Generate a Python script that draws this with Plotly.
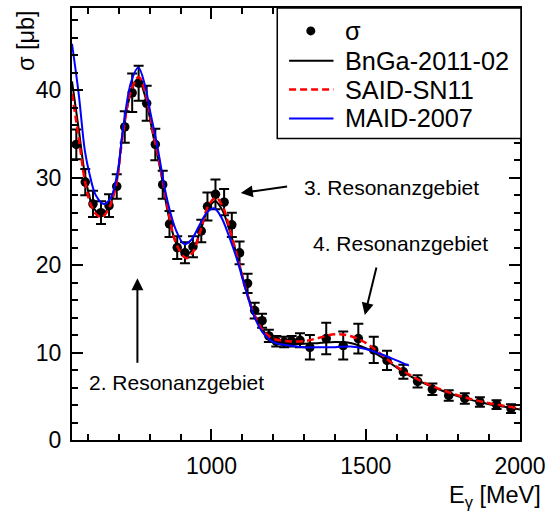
import plotly.graph_objects as go

# measured cross section
E_data = [562, 591, 616, 642, 668, 693, 719, 743, 764, 790, 818, 842, 864, 889, 914, 940,
          967, 987, 1013, 1041, 1066, 1091, 1117, 1140, 1164, 1186, 1210, 1236, 1260, 1287,
          1319, 1372, 1427, 1476, 1526, 1569, 1622, 1668, 1716, 1769, 1821, 1870, 1924, 1971]
sigma = [33.8, 29.5, 27.0, 26.0, 26.8, 29.0, 35.8, 39.7, 40.8, 38.5, 33.8, 29.2, 24.7, 22.0, 21.4, 22.1,
         23.9, 26.7, 28.1, 27.2, 24.6, 21.4, 17.9, 14.8, 13.65, 11.9, 11.3, 11.2, 11.3, 11.4,
         10.6, 11.6, 10.8, 11.6, 10.3, 9.1, 7.8, 6.7, 5.8, 5.1, 4.75, 4.35, 4.05, 3.6]
sigma_err = [1.7, 1.5, 1.5, 1.3, 1.3, 1.4, 1.8, 2.2, 2.0, 2.0, 1.8, 1.6, 1.5, 1.3, 1.2, 1.2,
             1.3, 1.6, 1.7, 1.5, 1.4, 1.3, 1.1, 0.9, 0.8, 0.7, 0.6, 0.6, 0.6, 0.8,
             1.4, 1.8, 1.6, 1.7, 1.5, 1.1, 0.8, 0.7, 0.65, 0.6, 0.6, 0.55, 0.5, 0.5]

# BnGa-2011-02
E_bnga = [548, 570, 590, 610, 630, 645, 665, 690, 715, 740, 762, 785, 810, 835, 860, 885, 915, 940,
          965, 990, 1012, 1035, 1060, 1085, 1110, 1140, 1170, 1200, 1250, 1300, 1350, 1400, 1450,
          1500, 1550, 1600, 1650, 1700, 1750, 1800, 1850, 1900, 1950, 2000]
s_bnga = [41.0, 35.5, 30.3, 27.2, 26.0, 25.8, 26.5, 29.0, 35.8, 39.8, 41.3, 39.3, 35.0, 30.8, 25.8, 22.6, 21.2, 21.8,
          24.0, 26.5, 27.3, 26.3, 23.8, 20.8, 17.5, 14.3, 12.4, 11.4, 11.0, 11.0, 11.1, 11.2, 11.1,
          10.5, 9.5, 8.3, 7.2, 6.3, 5.6, 5.0, 4.5, 4.1, 3.8, 3.5]

# SAID-SN11
E_said = [548, 570, 590, 610, 630, 645, 665, 690, 715, 740, 764, 785, 810, 835, 860, 885, 918, 940,
          965, 990, 1015, 1040, 1060, 1085, 1110, 1140, 1170, 1200, 1250, 1300, 1350, 1400, 1450,
          1500, 1550, 1600, 1650, 1700, 1750, 1800, 1850, 1900, 1950, 2000]
s_said = [39.6, 34.5, 29.6, 26.8, 25.7, 25.5, 26.3, 29.0, 35.5, 40.0, 41.5, 39.8, 35.3, 31.0, 26.2, 22.5, 20.8, 21.5,
          24.0, 26.8, 27.7, 26.4, 24.0, 20.8, 17.4, 14.2, 12.4, 11.6, 11.3, 11.3, 11.7, 12.1, 11.9,
          11.1, 9.8, 8.4, 7.3, 6.4, 5.7, 5.1, 4.6, 4.2, 3.9, 3.6]

# MAID-2007
E_maid = [548, 570, 590, 605, 625, 652, 675, 695, 715, 740, 763, 785, 800, 825, 855, 885, 912, 935,
          960, 985, 1008, 1030, 1060, 1085, 1110, 1140, 1170, 1200, 1250, 1300, 1350, 1400, 1450,
          1500, 1550, 1600, 1640]
s_maid = [45.3, 39.5, 33.0, 30.4, 28.0, 27.0, 27.8, 30.5, 36.0, 41.0, 42.6, 40.5, 37.8, 33.5, 27.7, 24.0, 22.4, 22.9,
          24.5, 26.0, 26.5, 25.6, 23.0, 20.4, 17.3, 14.0, 12.1, 11.2, 10.8, 10.6, 10.6, 10.6, 10.7,
          10.4, 9.8, 9.1, 8.5]

legend_names = ["σ", "BnGa-2011-02", "SAID-SN11", "MAID-2007"]

FONT = "Liberation Sans, Arial, sans-serif"
BLACK, RED, BLUE = "black", "#ff0000", "#0000ff"
RED_DASH = "7px,4px"

fig = go.Figure()
fig.add_trace(go.Scatter(
    x=E_data, y=sigma, mode="markers", name=legend_names[0],
    marker=dict(color=BLACK, size=9.5),
    error_y=dict(type="data", array=sigma_err, color=BLACK, thickness=2, width=5),
))
fig.add_trace(go.Scatter(x=E_bnga, y=s_bnga, mode="lines", name=legend_names[1],
                         line=dict(color=BLACK, width=2, shape="spline")))
fig.add_trace(go.Scatter(x=E_said, y=s_said, mode="lines", name=legend_names[2],
                         line=dict(color=RED, width=2.5, dash=RED_DASH, shape="spline")))
fig.add_trace(go.Scatter(x=E_maid, y=s_maid, mode="lines", name=legend_names[3],
                         line=dict(color=BLUE, width=2, shape="spline")))

axis_common = dict(
    showline=True, linecolor="black", linewidth=2, mirror="allticks",
    ticks="inside", ticklen=11, tickwidth=2, tickcolor="black",
    showgrid=False, zeroline=False,
    tickfont=dict(family=FONT, size=23, color="black"),
)
fig.update_xaxes(range=[548, 2000], dtick=500, tick0=0,
                 minor=dict(ticks="inside", ticklen=6, dtick=100, tickwidth=2, tickcolor="black"),
                 ticklabelstandoff=4, **axis_common)
fig.update_yaxes(range=[0, 49.4], dtick=10, tick0=0,
                 minor=dict(ticks="inside", ticklen=6, dtick=2, tickwidth=2, tickcolor="black"),
                 ticklabelstandoff=4, **axis_common)

# ---- legend box drawn in paper coordinates (plot area: 454 x 434 px) ----
PW, PH = 454.0, 434.0
def px_x(p):
    return (p - 72) / PW
def px_y(p):
    return (440 - p) / PH

row_y = [29, 59, 88, 117]
shapes = [
    dict(type="rect", xref="paper", yref="paper", x0=px_x(280), x1=px_x(527),
         y0=px_y(137), y1=px_y(6), line=dict(color="black", width=1.5),
         fillcolor="white", layer="above"),
    dict(type="circle", xref="paper", yref="paper", xsizemode="pixel", ysizemode="pixel",
         xanchor=px_x(314), yanchor=px_y(row_y[0]), x0=-4.5, x1=4.5, y0=-4.5, y1=4.5,
         fillcolor=BLACK, line=dict(color=BLACK, width=0), layer="above"),
]
line_styles = [dict(color=BLACK, width=2), dict(color=RED, width=2.5, dash=RED_DASH),
               dict(color=BLUE, width=2)]
for ry, ls in zip(row_y[1:], line_styles):
    shapes.append(dict(type="line", xref="paper", yref="paper", x0=px_x(292), x1=px_x(337),
                       y0=px_y(ry), y1=px_y(ry), line=ls, layer="above"))

leg_font = dict(family=FONT, size=25.3, color="black")
annotations = [
    dict(x=px_x(347), y=px_y(ry), xref="paper", yref="paper", text=name, showarrow=False,
         xanchor="left", yanchor="middle", font=leg_font)
    for ry, name in zip(row_y, legend_names)
]

ann_font = dict(family=FONT, size=21, color="black")
annotations += [
    dict(x=1095, y=28.25, ax=1250, ay=29.0, axref="x", ayref="y",
         text="", showarrow=True, arrowhead=2, arrowsize=1.2,
         arrowwidth=2, arrowcolor="black", xref="x", yref="y", standoff=0),
    dict(x=1497, y=14.3, ax=12, ay=-49, text="", showarrow=True, arrowhead=2, arrowsize=1.2,
         arrowwidth=2, arrowcolor="black", xref="x", yref="y"),
    dict(x=760, y=18.5, ax=0, ay=86, text="", showarrow=True, arrowhead=2, arrowsize=1.2,
         arrowwidth=2, arrowcolor="black", xref="x", yref="y"),
    dict(x=1292, y=28.9, text="3. Resonanzgebiet", showarrow=False, xanchor="left",
         yanchor="middle", font=ann_font, xref="x", yref="y"),
    dict(x=1324, y=22.5, text="4. Resonanzgebiet", showarrow=False, xanchor="left",
         yanchor="middle", font=ann_font, xref="x", yref="y"),
    dict(x=595, y=6.6, text="2. Resonanzgebiet", showarrow=False, xanchor="left",
         yanchor="middle", font=ann_font, xref="x", yref="y"),
    # axis titles
    dict(x=px_x(549), y=px_y(497), xref="paper", yref="paper", text="E<sub>γ</sub> [MeV]",
         showarrow=False, xanchor="right", yanchor="middle",
         font=dict(family=FONT, size=23.5, color="black")),
    dict(x=px_x(25), y=1.0, xref="paper", yref="paper", text="σ [μb]", textangle=-90,
         showarrow=False, xanchor="center", yanchor="top",
         font=dict(family=FONT, size=23.5, color="black")),
]

fig.update_layout(
    width=552, height=515,
    margin=dict(l=72, r=26, t=6, b=75),
    paper_bgcolor="white", plot_bgcolor="white",
    font=dict(family=FONT, color="black"),
    showlegend=False,
    shapes=shapes,
    annotations=annotations,
)

fig.write_html("out.html")
